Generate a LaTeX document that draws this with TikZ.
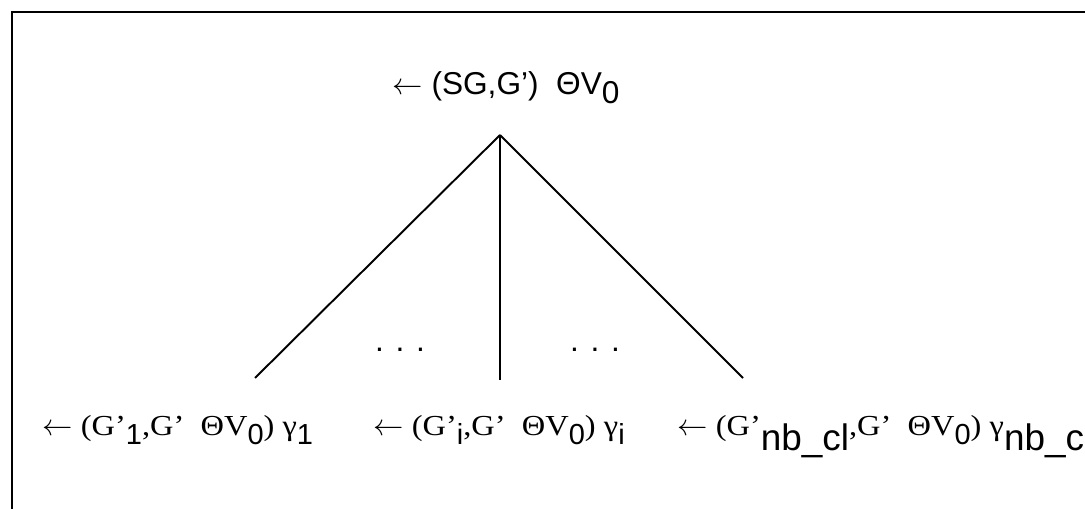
\documentclass[tikz,border=0pt]{standalone}
\usepackage{fontspec}
\setmainfont{Liberation Serif}[FakeStretch=1.12]
\newfontfamily\hv{Liberation Sans}
\usetikzlibrary{positioning}

\newcommand{\lw}{\ensuremath{\leftarrow}}
\newcommand{\sub}[1]{\raisebox{-0.18cm}{\hv #1}}
\newcommand{\bigsub}[1]{\raisebox{-0.3cm}{\hv\fontsize{21}{22}\selectfont #1}}

\tikzset{
  frameline/.style={line width=1.1pt},
  branch/.style={line width=1.1pt},
  toplbl/.style={anchor=base west,inner sep=0pt,font=\hv\fontsize{18}{20}\selectfont},
  leaflbl/.style={anchor=base west,inner sep=0pt,font=\fontsize{16.5}{18}\selectfont},
  dotlbl/.style={inner sep=0pt,font=\hv\fontsize{18}{20}\selectfont}
}

\begin{document}
\begin{tikzpicture}[x=0.02cm,y=-0.02cm]
\useasboundingbox (0,0) rectangle (1085,509);
% frame
\draw[frameline] (12,530) -- (12,12) -- (1110,12);
% root
\node[toplbl] (root) at (392,95) {\lw\ (SG,G’) \ ΘV\sub{0}};
\coordinate (apex) at (500,135);
% leaves
\coordinate (e1) at (255,378);
\coordinate (ei) at (500,380);
\coordinate (en) at (743,378);
\draw[branch] (apex) -- (e1);
\draw[branch] (apex) -- (ei);
\draw[branch] (apex) -- (en);
\node[dotlbl] (dl) at (400,350) {. . .};
\node[dotlbl] (dr) at (595,350) {. . .};
\node[leaflbl] (l1) at (42,436) {\lw\ (G’\sub{1},G’ \ ΘV\sub{0}) γ\sub{1}};
\node[leaflbl] (li) at (373,436) {\lw\ (G’\sub{i},G’ \ ΘV\sub{0}) γ\sub{i}};
\node[leaflbl] (ln) at (677,436) {\lw\ (G’\bigsub{nb\_cl},G’ \ ΘV\sub{0}) γ\bigsub{nb\_cl}};
\end{tikzpicture}
\end{document}
